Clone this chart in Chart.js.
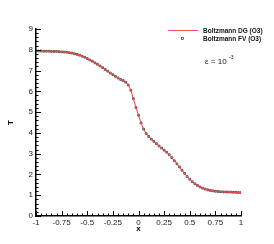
<!DOCTYPE html>
<html>
<head>
<meta charset="utf-8">
<script src="https://cdn.jsdelivr.net/npm/chart.js@4/dist/chart.umd.min.js"></script>
<style>
  html, body { margin: 0; padding: 0; background: #fff; }
  #wrap { width: 274px; height: 244px; }
</style>
</head>
<body>
<div id="wrap"><canvas id="chart_1" width="274" height="244"></canvas></div>
<script>
// x positions and temperature
const x_values = [-1, -0.975, -0.95, -0.925, -0.9, -0.875, -0.85, -0.825, -0.8, -0.775,
  -0.75, -0.725, -0.7, -0.675, -0.65, -0.625, -0.6, -0.575, -0.55, -0.525,
  -0.5, -0.475, -0.45, -0.425, -0.4, -0.375, -0.35, -0.325, -0.3, -0.275,
  -0.25, -0.225, -0.2, -0.175, -0.15, -0.125, -0.1, -0.075, -0.05, -0.025,
  0, 0.025, 0.05, 0.075, 0.1, 0.125, 0.15, 0.175, 0.2, 0.225,
  0.25, 0.275, 0.3, 0.325, 0.35, 0.375, 0.4, 0.425, 0.45, 0.475,
  0.5, 0.525, 0.55, 0.575, 0.6, 0.625, 0.65, 0.675, 0.7, 0.725,
  0.75, 0.775, 0.8, 0.825, 0.85, 0.875, 0.9, 0.925, 0.95, 0.975, 1]
const dg_values = [7.94, 7.94, 7.94, 7.93, 7.93, 7.93, 7.92, 7.92, 7.92, 7.91,
  7.90, 7.89, 7.88, 7.86, 7.84, 7.81, 7.78, 7.74, 7.69, 7.64,
  7.58, 7.51, 7.45, 7.37, 7.30, 7.22, 7.14, 7.05, 6.97, 6.88,
  6.80, 6.72, 6.64, 6.57, 6.52, 6.44, 6.30, 6.05, 5.65, 5.22,
  4.85, 4.48, 4.18, 3.97, 3.83, 3.70, 3.59, 3.48, 3.37, 3.27,
  3.17, 3.07, 2.95, 2.81, 2.66, 2.51, 2.36, 2.20, 2.05, 1.90,
  1.77, 1.65, 1.55, 1.47, 1.40, 1.34, 1.30, 1.26, 1.23, 1.21,
  1.19, 1.18, 1.17, 1.16, 1.16, 1.15, 1.15, 1.14, 1.14, 1.13, 1.13]
const fv_values = dg_values.slice()
const x_ticks = [-1, -0.75, -0.5, -0.25, 0, 0.25, 0.5, 0.75, 1]
const y_ticks = [0, 1, 2, 3, 4, 5, 6, 7, 8, 9]
const series_names = ['Boltzmann DG (O3)', 'Boltzmann FV (O3)']

const pts = (ys) => x_values.map((x, i) => ({ x: x, y: ys[i] }))
const font_name = '"Liberation Sans", Arial, sans-serif'

//draws inward major/minor ticks, legend and the epsilon note
const decorations = {
  id: 'decorations',
  afterDraw(chart) {
    const ctx = chart.ctx
    const xs = chart.scales.x
    const ys = chart.scales.y
    const area = chart.chartArea
    ctx.save()
    ctx.strokeStyle = '#000'
    ctx.lineWidth = 1
    ctx.beginPath()
    for (let v = -1; v <= 1.0001; v += 0.05) {
      const px = Math.round(xs.getPixelForValue(v)) + 0.5
      const major = Math.abs(v * 4 - Math.round(v * 4)) < 0.001
      ctx.moveTo(px, area.bottom)
      ctx.lineTo(px, area.bottom - (major ? 5 : 2.5))
    }
    for (let v = 0; v <= 9.0001; v += 0.2) {
      const py = Math.round(ys.getPixelForValue(v)) + 0.5
      const major = Math.abs(v - Math.round(v)) < 0.001
      ctx.moveTo(area.left, py)
      ctx.lineTo(area.left + (major ? 5 : 2.5), py)
    }
    ctx.stroke()

    // legend
    ctx.strokeStyle = '#ff5050'
    ctx.lineWidth = 1
    ctx.beginPath()
    ctx.moveTo(168, 30.5)
    ctx.lineTo(198, 30.5)
    ctx.stroke()
    ctx.strokeStyle = '#444'
    ctx.lineWidth = 0.7
    ctx.strokeRect(181.5, 37.5, 2, 2)
    ctx.fillStyle = '#111'
    ctx.font = 'bold 6.5px ' + font_name
    ctx.textBaseline = 'middle'
    ctx.textAlign = 'left'
    ctx.fillText(series_names[0], 203, 31)
    ctx.fillText(series_names[1], 203, 39)

    ctx.font = '8px ' + font_name
    ctx.fillText('\u03b5 = 10', 205, 62)
    ctx.font = '5px ' + font_name
    ctx.fillText('-3', 229, 58)
    ctx.restore()
  }
}

let ctx4 = document.getElementById('chart_1').getContext('2d')
let chart1 = new Chart(ctx4, {
  type: 'scatter',
  data: {
    datasets: [
      {
        label: series_names[0],
        data: pts(dg_values),
        showLine: true,
        borderColor: '#ff3a3a',
        borderWidth: 1,
        pointRadius: 0,
        fill: false
      },
      {
        label: series_names[1],
        data: pts(fv_values),
        showLine: false,
        pointStyle: 'rect',
        pointRadius: 1.25,
        borderColor: '#3a2a2a',
        borderWidth: 0.8,
        backgroundColor: 'rgba(0,0,0,0)'
      }
    ]
  },
  options: {
    responsive: false,
    animation: false,
    layout: { padding: { left: 6, right: 33, top: 29, bottom: 10 } },
    plugins: {
      legend: { display: false },
      tooltip: { enabled: false }
    },
    scales: {
      x: {
        type: 'linear',
        min: -1,
        max: 1,
        afterBuildTicks: (s) => { s.ticks = x_ticks.map(v => ({ value: v })) },
        afterFit: (s) => { s.height = 18 },
        grid: { drawOnChartArea: false, drawTicks: false },
        border: { display: true, color: '#000', width: 1.5 },
        ticks: {
          padding: 2,
          color: '#222',
          font: { family: font_name, size: 8 },
          callback: (v) => '' + v
        },
        title: {
          display: true,
          text: 'x',
          color: '#000',
          padding: { top: 0, bottom: 0 },
          font: { family: font_name, size: 8, weight: 'bold' }
        }
      },
      y: {
        type: 'linear',
        min: 0,
        max: 9,
        afterBuildTicks: (s) => { s.ticks = y_ticks.map(v => ({ value: v })) },
        afterFit: (s) => { s.width = 30 },
        grid: { drawOnChartArea: false, drawTicks: false },
        border: { display: true, color: '#000', width: 1.5 },
        ticks: {
          padding: 3,
          color: '#222',
          font: { family: font_name, size: 8 }
        },
        title: {
          display: true,
          text: 'T',
          color: '#000',
          padding: { top: 0, bottom: 0 },
          font: { family: font_name, size: 8, weight: 'bold' }
        }
      }
    }
  },
  plugins: [decorations]
});
</script>
</body>
</html>
